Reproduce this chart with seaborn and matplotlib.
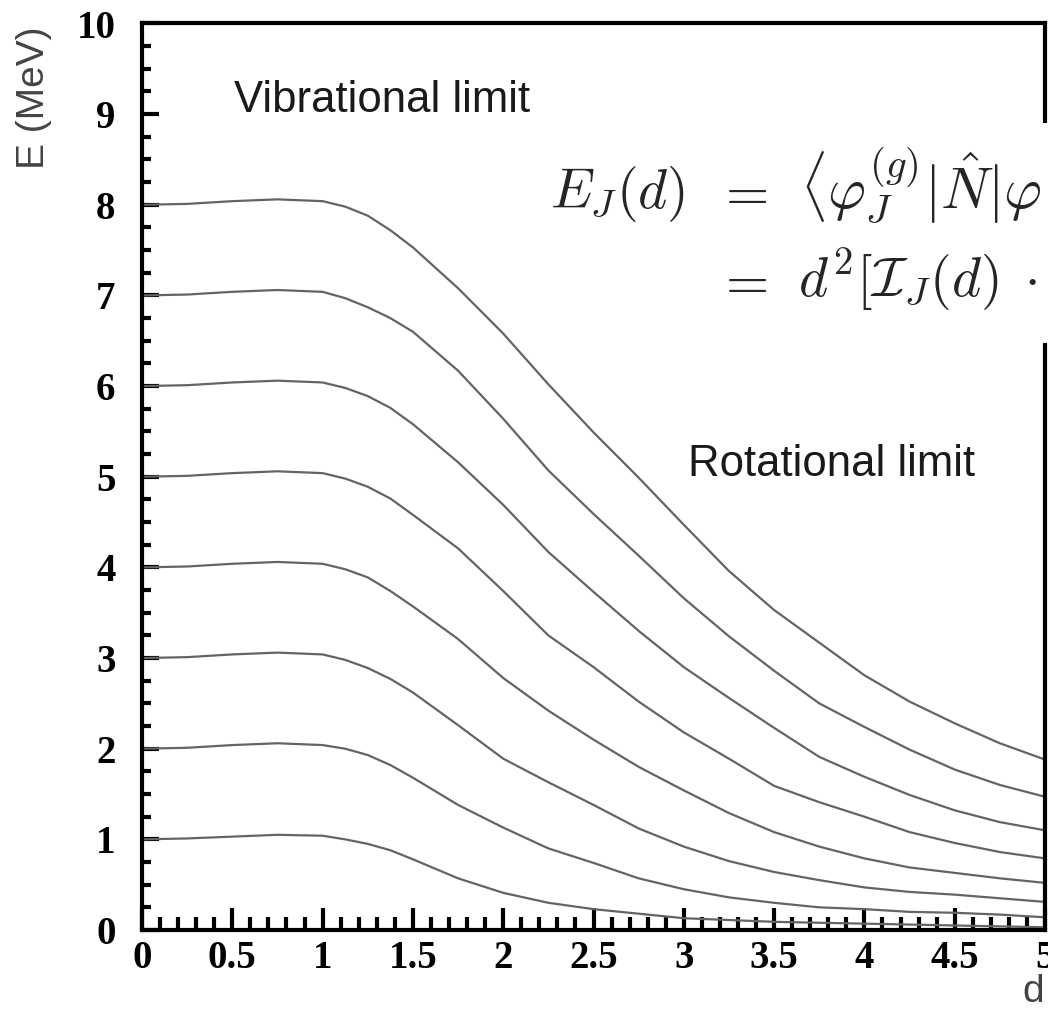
import numpy as np
import pandas as pd
import matplotlib
matplotlib.use("Agg")
import matplotlib.pyplot as plt
import seaborn as sns
from matplotlib.ticker import MultipleLocator, FixedLocator
from matplotlib.patches import Rectangle

# ---------------- data ----------------
d_values = [0, 0.25, 0.5, 0.75, 1.0, 1.125, 1.25, 1.375, 1.5, 1.75, 2.0, 2.25, 2.5,
            2.75, 3.0, 3.25, 3.5, 3.75, 4.0, 4.25, 4.5, 4.75, 5.0]

E_J8 = [8.00, 8.01, 8.04, 8.06, 8.04, 7.98, 7.88, 7.72, 7.53, 7.08, 6.58, 6.02, 5.49,
        4.99, 4.47, 3.96, 3.53, 3.17, 2.81, 2.52, 2.28, 2.06, 1.88]
E_J7 = [7.00, 7.01, 7.04, 7.06, 7.04, 6.97, 6.87, 6.75, 6.60, 6.17, 5.64, 5.07, 4.59,
        4.13, 3.66, 3.24, 2.86, 2.50, 2.24, 1.99, 1.77, 1.60, 1.47]
E_J6 = [6.00, 6.01, 6.04, 6.06, 6.04, 5.98, 5.89, 5.76, 5.58, 5.16, 4.69, 4.17, 3.73,
        3.30, 2.90, 2.56, 2.23, 1.91, 1.69, 1.49, 1.32, 1.19, 1.10]
E_J5 = [5.00, 5.01, 5.04, 5.06, 5.04, 4.98, 4.89, 4.76, 4.58, 4.21, 3.74, 3.25, 2.90,
        2.52, 2.18, 1.89, 1.59, 1.41, 1.25, 1.08, 0.96, 0.86, 0.79]
E_J4 = [4.00, 4.01, 4.04, 4.06, 4.04, 3.98, 3.89, 3.74, 3.57, 3.21, 2.78, 2.42, 2.10,
        1.80, 1.54, 1.29, 1.08, 0.92, 0.79, 0.69, 0.63, 0.57, 0.52]
E_J3 = [3.00, 3.01, 3.04, 3.06, 3.04, 2.98, 2.89, 2.77, 2.62, 2.26, 1.89, 1.63, 1.38,
        1.12, 0.92, 0.76, 0.64, 0.55, 0.47, 0.42, 0.39, 0.35, 0.31]
E_J2 = [2.00, 2.01, 2.04, 2.06, 2.04, 2.00, 1.93, 1.82, 1.68, 1.38, 1.13, 0.90, 0.74,
        0.57, 0.45, 0.36, 0.30, 0.25, 0.23, 0.20, 0.19, 0.17, 0.14]
E_J1 = [1.00, 1.01, 1.03, 1.05, 1.04, 1.00, 0.95, 0.88, 0.78, 0.57, 0.41, 0.30, 0.23,
        0.18, 0.13, 0.11, 0.09, 0.08, 0.07, 0.06, 0.05, 0.04, 0.03]

series_names = ["J1", "J2", "J3", "J4", "J5", "J6", "J7", "J8"]
series_values = [E_J1, E_J2, E_J3, E_J4, E_J5, E_J6, E_J7, E_J8]

x_ticks = [0, 0.5, 1, 1.5, 2, 2.5, 3, 3.5, 4, 4.5, 5]
x_tick_labels = ["0", "0.5", "1", "1.5", "2", "2.5", "3", "3.5", "4", "4.5", "5"]
y_ticks = [0, 1, 2, 3, 4, 5, 6, 7, 8, 9, 10]
y_tick_labels = ["0", "1", "2", "3", "4", "5", "6", "7", "8", "9", "10"]

# ---------------- build long-form table ----------------
rows = []
for name, vals in zip(series_names, series_values):
    for d, e in zip(d_values, vals):
        rows.append({"d": d, "E": e, "J": name})
df = pd.DataFrame(rows)

# ---------------- style ----------------
sns.set_theme(style="white")
plt.rcParams["mathtext.fontset"] = "cm"
plt.rcParams["font.family"] = ["Liberation Sans", "DejaVu Sans"]

W, H = 1048, 1013
fig = plt.figure(figsize=(W / 100, H / 100), dpi=100)
fig.patch.set_facecolor("white")

left_px, right_px, top_px, bottom_px = 142, 1045, 23.5, 930
ax = fig.add_axes([left_px / W, 1 - bottom_px / H,
                   (right_px - left_px) / W, (bottom_px - top_px) / H])
ax.set_facecolor("white")

sns.lineplot(data=df, x="d", y="E", hue="J", palette=["#646464"] * 8,
             legend=False, linewidth=1.6, ax=ax, sort=True)

ax.set_xlim(0, 5)
ax.set_ylim(0, 10)
ax.set_xlabel("")
ax.set_ylabel("")

for s in ax.spines.values():
    s.set_visible(True)
    s.set_color("black")
    s.set_linewidth(3)

tick_font = dict(fontfamily="Liberation Serif", fontweight="bold",
                 fontsize=28, color="black")
ax.xaxis.set_major_locator(FixedLocator(x_ticks))
ax.set_xticks(x_ticks, labels=x_tick_labels, **tick_font)
ax.set_yticks(y_ticks, labels=y_tick_labels, **tick_font)
ax.xaxis.set_minor_locator(MultipleLocator(0.1))
ax.yaxis.set_minor_locator(MultipleLocator(0.25))

ax.tick_params(axis="x", which="major", direction="in", length=16, width=3,
               pad=7, bottom=True, top=False, color="black")
ax.tick_params(axis="x", which="minor", direction="in", length=9.5, width=3,
               bottom=True, top=False, color="black")
ax.tick_params(axis="y", which="major", direction="in", length=12, width=3,
               pad=19, left=True, right=False, color="black")
ax.tick_params(axis="y", which="minor", direction="in", length=6.5, width=3,
               left=True, right=False, color="black")

# annotations
ax.text(1.33, 9.15, "Vibrational limit", ha="center", va="center",
        fontsize=31.5, color="#1a1a1a", family="Liberation Sans")
ax.text(3.82, 5.13, "Rotational limit", ha="center", va="center",
        fontsize=31.5, color="#1a1a1a", family="Liberation Sans")

# white panel holding the equation (covers the right spine there)
fig.patches.append(Rectangle((590 / W, 1 - 343 / H), (W - 590) / W, (343 - 123) / H,
                             transform=fig.transFigure, facecolor="white",
                             edgecolor="none", zorder=2))

eq_size = 40
fig.text(550 / W, 1 - 208 / H, r"$E_J(d)$", fontsize=eq_size, va="baseline",
         ha="left", zorder=3)
fig.text(716 / W, 1 - 208 / H, r"$=$", fontsize=eq_size, va="baseline",
         ha="left", zorder=3)
fig.text(800 / W, 1 - 208 / H, r"$\langle\varphi_J^{(g)}|\hat{N}|\varphi$",
         fontsize=42, va="baseline", ha="left", zorder=3)
fig.text(716 / W, 1 - 297 / H, r"$=$", fontsize=eq_size, va="baseline",
         ha="left", zorder=3)
fig.text(798 / W, 1 - 297 / H, r"$d^2[\mathcal{I}_J(d)\;\cdot$",
         fontsize=eq_size, va="baseline", ha="left", zorder=3)

# axis labels
fig.text(34 / W, 1 - 98 / H, "E (MeV)", rotation=90, ha="center", va="center",
         fontsize=28, color="#444444", family="Liberation Sans")
fig.text(1033 / W, 1 - 992 / H, "d", ha="center", va="center",
         fontsize=28, color="#444444", family="Liberation Sans")

fig.savefig("out.png", dpi=100, facecolor="white")
